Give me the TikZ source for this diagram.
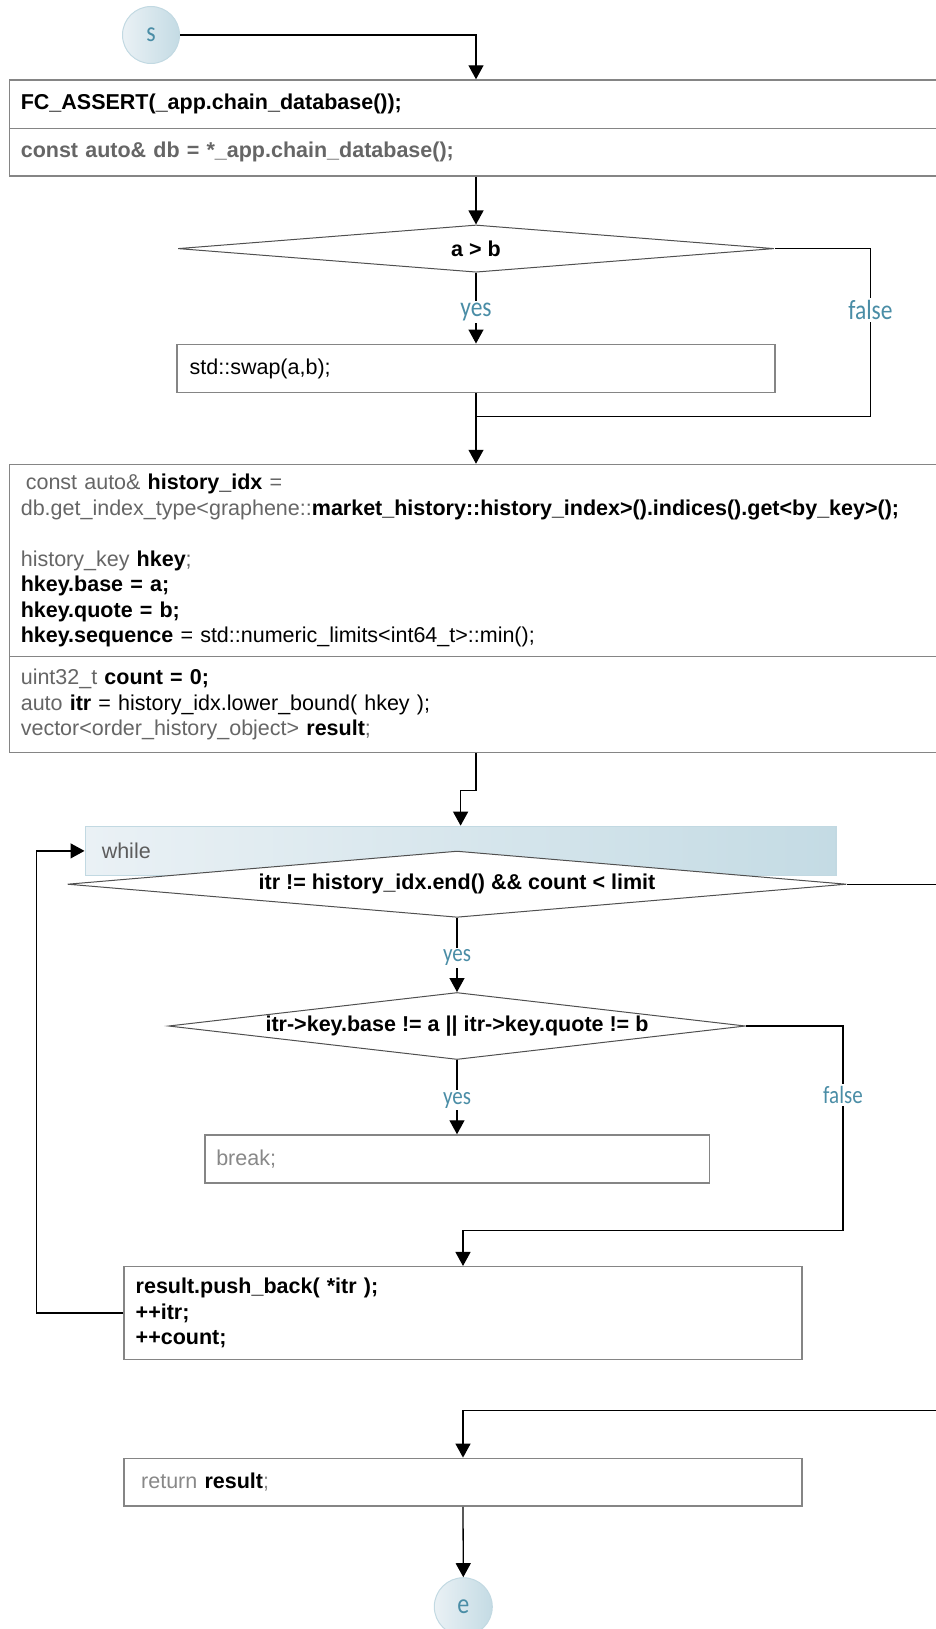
\documentclass[tikz,border=0pt]{standalone}
\usepackage{fontspec}
\setmainfont{Liberation Sans}
\newfontfamily\lblfont{Carlito}
\usetikzlibrary{arrows.meta, shapes.geometric}

\definecolor{labelteal}{HTML}{4A8DA6}
\definecolor{shadeA}{HTML}{EAF1F5}
\definecolor{shadeB}{HTML}{C4DBE4}
\definecolor{shadeline}{HTML}{C2D9E2}
\definecolor{boxgray}{HTML}{858585}
\definecolor{testline}{HTML}{505050}
\definecolor{codegray}{HTML}{666666}
\definecolor{softgray}{HTML}{888888}

\newcommand{\codefont}{\fontsize{21.5}{25.5}\selectfont}
\newcommand{\tall}[1]{\scalebox{1}[1.18]{#1}}

\begin{document}
\begin{tikzpicture}[x=1pt, y=-1pt, ->, >={Triangle[length=14pt, width=15pt]}, line width=1.3pt,
    block/.style={rectangle, draw=boxgray, line width=1.5pt, fill=white, inner xsep=11.5pt, inner ysep=3pt, align=left, font=\codefont},
    test/.style={diamond, draw=testline, line width=1pt, fill=white, inner sep=0pt, font=\codefont\bfseries},
    term/.style={circle, draw=shadeline, line width=1pt, left color=shadeA, right color=shadeB, minimum size=57pt, inner sep=0pt, text=labelteal, font=\lblfont\fontsize{24}{24}\selectfont},
    loopbar/.style={rectangle, draw=shadeline, line width=1.5pt, left color=shadeA, right color=shadeB, inner xsep=16.5pt, text width=717.7pt, align=left, text=codegray!90!black, font=\codefont},
    lbl/.style={fill=white, inner sep=2pt, text=labelteal, font=\lblfont\fontsize{23.5}{23.5}\selectfont},
    lblsmall/.style={lbl, font=\lblfont\fontsize{21}{21}\selectfont}]

    \path[use as bounding box, clip] (0,0) rectangle (936,1629);

    \node[term] (s) at (151,35) {\tall{s}};
    \node[block, text width=910.4pt, minimum height=48.3pt] (init1) at (476,104.2) {\textbf{FC\_ASSERT(\_app.chain\_database());}};
    \node[block, text width=910.4pt, minimum height=47.7pt] (init2) at (476,152.2) {\textbf{\textcolor{codegray}{const auto\& db = *\_app.chain\_database();}}};
    \node[test, aspect=12, minimum width=596pt, minimum height=47.3pt] (if1) at (476,248.6) {a > b};
    \node[block, text width=572.7pt, inner xsep=12.5pt, minimum height=48.4pt] (swap) at (476,368.5) {std::swap(a,b);};
    \node[block, text width=910.4pt, minimum height=192.2pt] (hist1) at (476,560.6) {%
        \hspace*{5pt}\textcolor{codegray}{const auto\&} \textbf{history\_idx} \textcolor{codegray}{=}\\
        \textcolor{codegray}{db.get\_index\_type<graphene::}\textbf{market\_history::history\_index>().indices().get<by\_key>();}\\[25.5pt]
        \textcolor{codegray}{history\_key} \textbf{hkey}\textcolor{codegray}{;}\\
        \textbf{hkey.base = a;}\\
        \textbf{hkey.quote = b;}\\
        \textbf{hkey.sequence} = std::numeric\_limits<int64\_t>::min();};
    \node[block, text width=910.4pt, minimum height=96pt] (hist2) at (476,704.7) {%
        \textcolor{codegray}{uint32\_t} \textbf{count = 0;}\\
        \textcolor{codegray}{auto} \textbf{itr} = history\_idx.lower\_bound( hkey );\\
        \textcolor{codegray}{vector<order\_history\_object>} \textbf{result}\textcolor{codegray}{;}};

    % while loop
    \node[loopbar, minimum height=49pt] (band) at (460.6,850.9) {while};
    \node[test, aspect=11.5, minimum width=779pt, minimum height=66.3pt] (whilecond) at (457,884.2) {itr != history\_idx.end() \&\& count < limit};
    \node[test, aspect=8.5, minimum width=577pt, minimum height=67pt] (if2) at (457,1026) {itr->key.base != a || itr->key.quote != b};
    \node[block, text width=481.5pt, minimum height=48pt] (brk) at (457,1159) {\textcolor{softgray}{break;}};
    \node[block, text width=654.6pt, minimum height=92.6pt] (push) at (463,1313) {%
        \textbf{result.push\_back( *itr );}\\
        \textbf{++itr;}\\
        \textbf{++count;}};

    \node[block, text width=654.6pt, minimum height=47.7pt] (ret) at (463,1482.2) {\hspace*{5.5pt}\textcolor{softgray}{return} \textbf{result}\textcolor{softgray}{;}};
    \node[term, minimum size=58pt] (e) at (463.3,1606.7) {\tall{e}};

    \coordinate (f1) at (870.4,416.7);
    \coordinate (join1) at (476,416.7);
    \coordinate (f2) at (843,1230.3);
    \coordinate (out) at (960,1410.7);

\path
        (init2.south) edge (if1.north)
        (if1.south) edge node[lbl, yshift=-4pt] {\tall{yes}} (swap.north)
        (swap.south) edge (hist1.north)
        (whilecond.south) edge node[lblsmall, yshift=-3pt] {\tall{yes}} (if2.north)
        (if2.south) edge node[lblsmall, yshift=-3pt] {\tall{yes}} (brk.north)
        (ret.south) edge (e.north)
;
    \draw (s.east) -| (init1.north);
    \draw[-] (if1.east) -| node[lbl, pos=0.683] {\tall{false}} (f1) -- (join1);
    \draw (hist2.south) -- ++(0,37.3) -| (band.north);
    \draw (if2.east) -| node[lblsmall, pos=0.669] {\tall{false}} (f2) -| (push.north);
    \draw (push.west) -| ([xshift=-48.3pt]band.west) -- (band.west);
    \draw (whilecond.east) -| (out) -| (ret.north);
\end{tikzpicture}
\end{document}
